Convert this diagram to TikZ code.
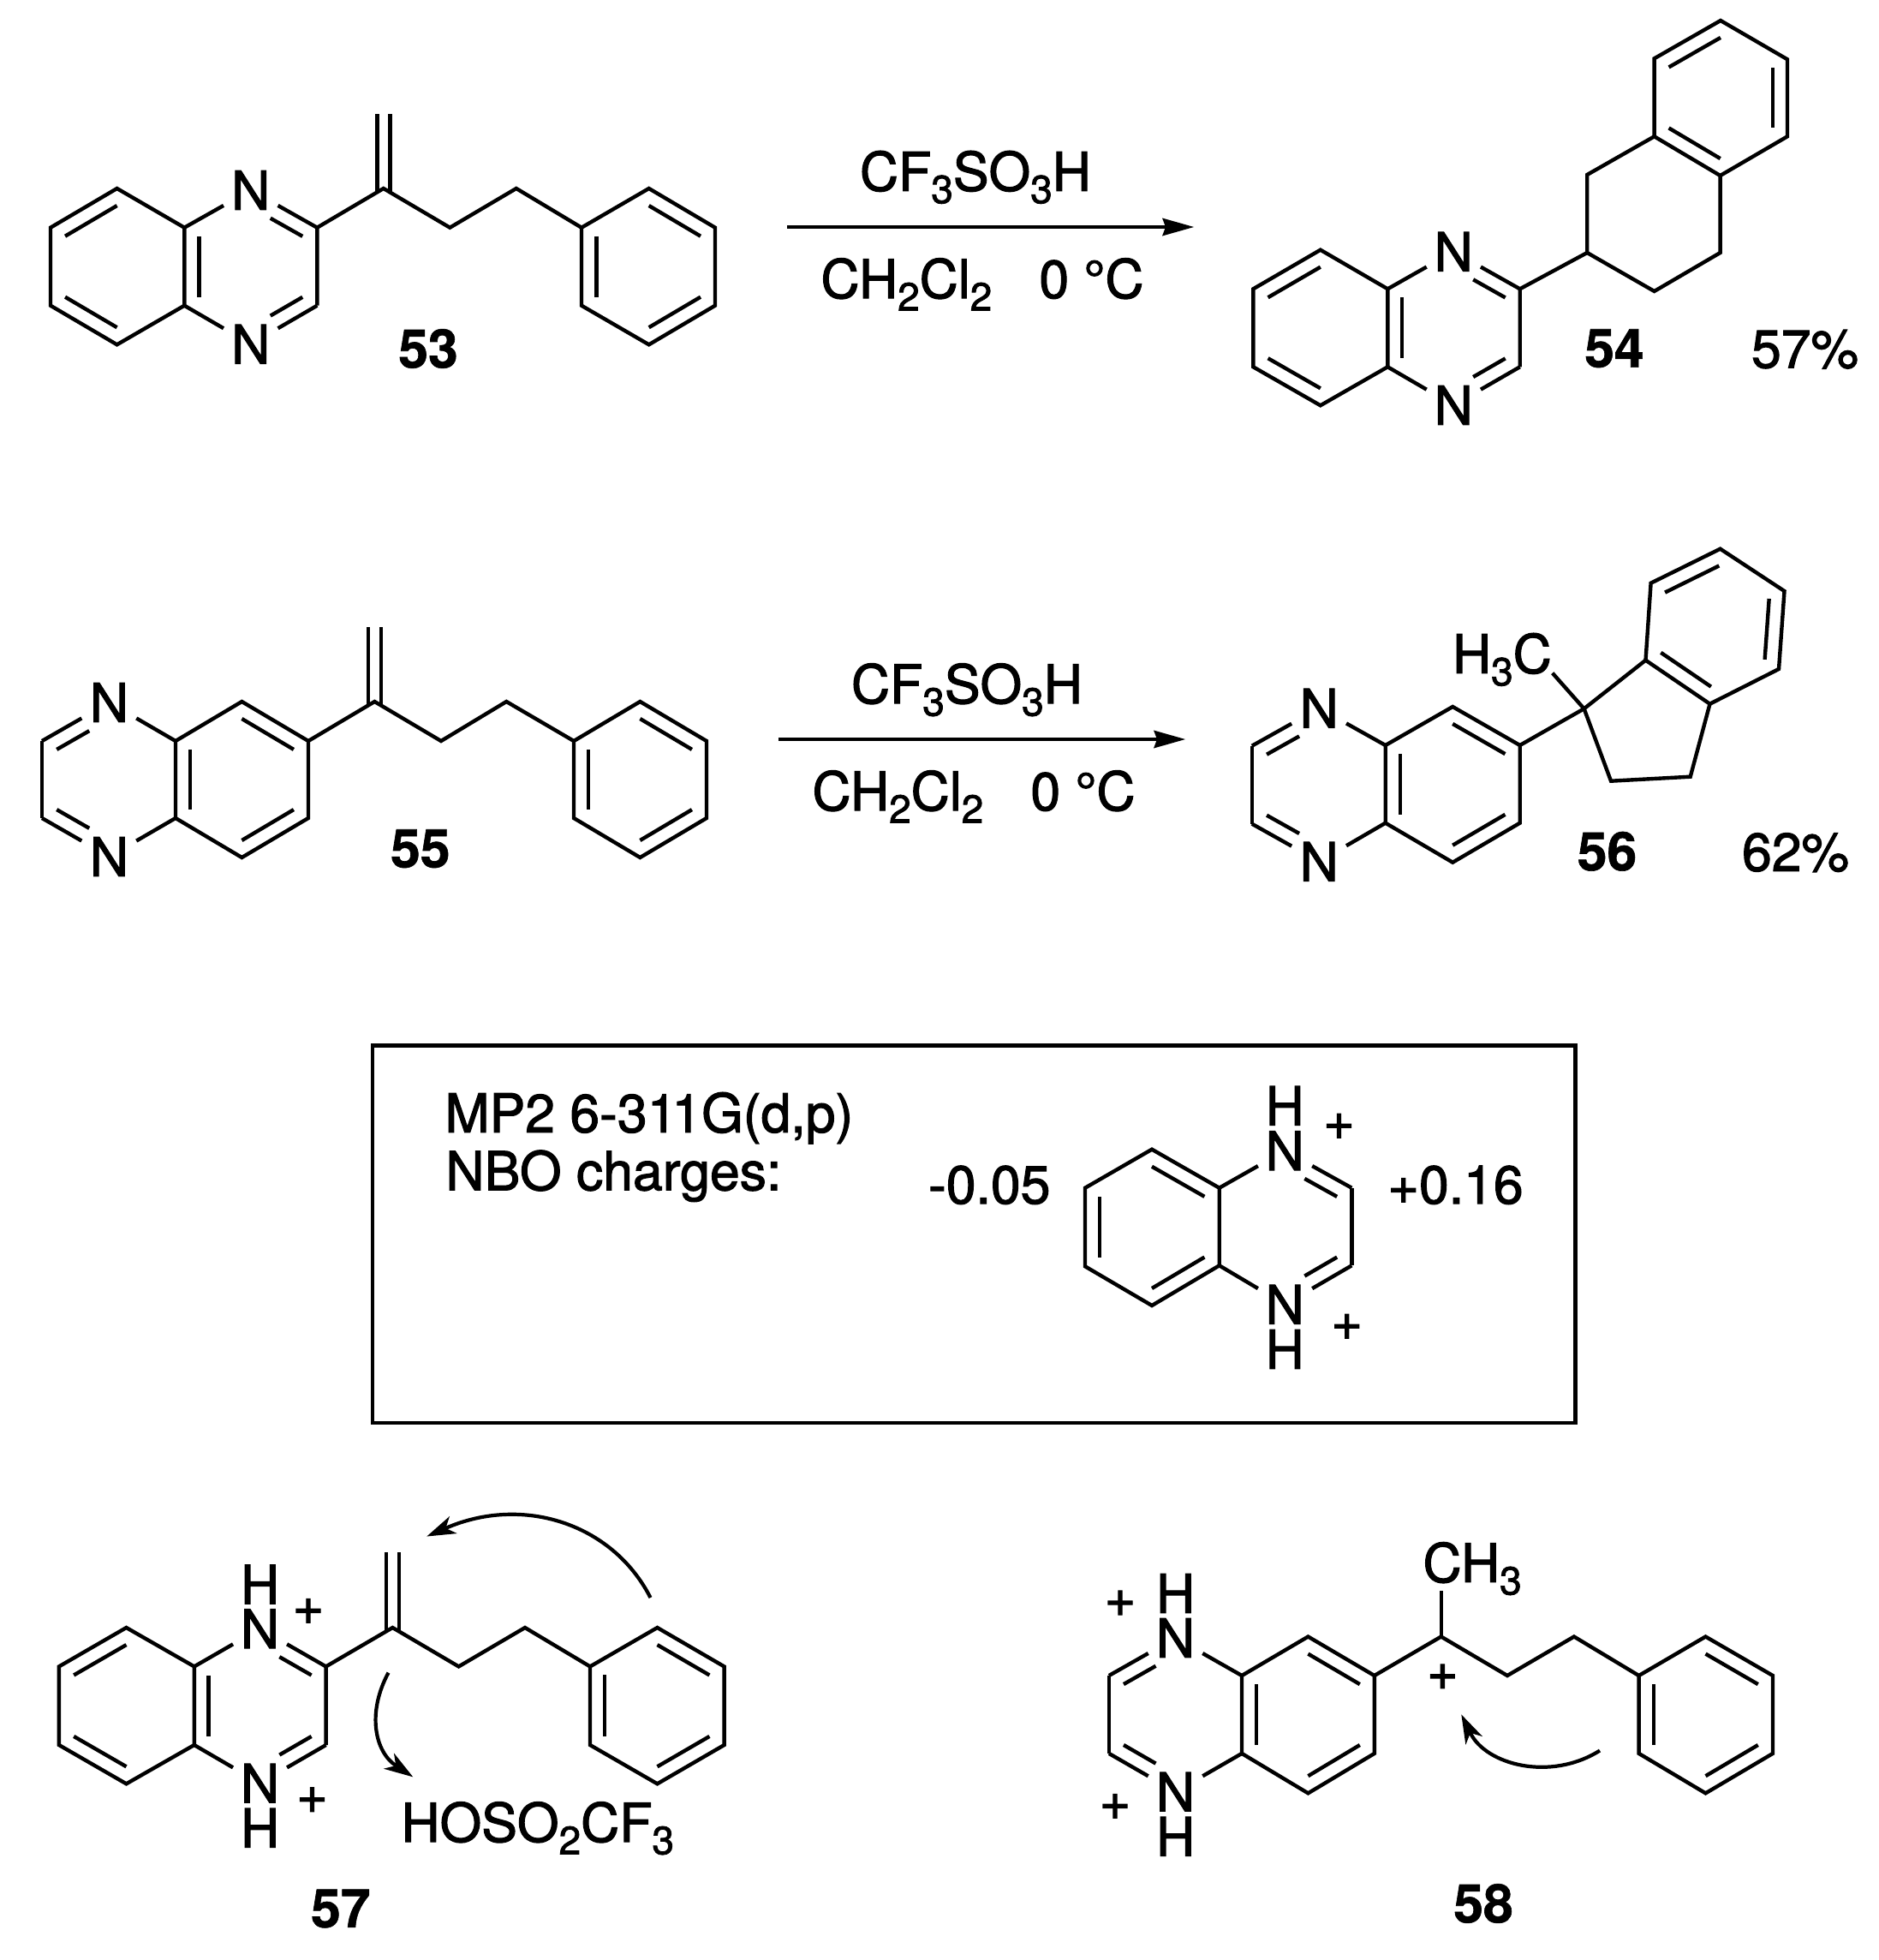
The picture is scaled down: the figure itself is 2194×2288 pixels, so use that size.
\documentclass[tikz,border=0pt]{standalone}
\usepackage{fontspec}
\setmainfont[FakeBold=1.8,BoldFont={TeX Gyre Heros Bold},BoldFeatures={FakeBold=1}]{TeX Gyre Heros}
\usetikzlibrary{calc,arrows.meta}
\newcommand{\chs}[1]{\raisebox{-14.5pt}{\fontsize{46}{50}\selectfont #1}}
\tikzset{
  bond/.style={line width=4.4pt,line join=miter,line cap=butt},
  txt/.style={inner sep=0pt,outer sep=0pt,font=\fontsize{62.5}{70}\selectfont},
  txtl/.style={txt,anchor=base west},
  num/.style={inner sep=0pt,outer sep=0pt,font=\fontsize{62.5}{70}\selectfont\bfseries},
  rxn/.style={line width=4.4pt,-{Stealth[length=37pt,width=21pt,inset=4pt,line width=0pt]}},
  curly/.style={line width=4.2pt,-{Stealth[length=34pt,width=22pt,inset=10pt,line width=0pt]}},
  frame/.style={line width=4.8pt,line join=miter,outer sep=0pt}
}
\newcommand{\pts}[1]{\foreach \n/\x/\y in {#1}{\coordinate (\n) at (\x,\y);}}
\newcommand{\atoms}[1]{\foreach \n/\x/\y/\t in {#1}{\node[txt] (\n) at (\x,\y) {\t};}}
\newcommand{\inr}[3]{\draw[bond] ($(#1)!.22!(#3)$) -- ($(#2)!.22!(#3)$);}
\newcommand{\bondN}[2]{\draw[bond] (#1) -- ($(#1)!.59!(#2)$);}
\newcommand{\dblN}[3]{%
  \coordinate (tmpa) at ($(#1)!.22!(#3)$);
  \coordinate (tmpb) at ($(#2)!.22!(#3)$);
  \draw[bond] (#1) -- ($(#1)!.59!(#2)$);
  \draw[bond] (tmpa) -- ($(tmpa)!.62!(tmpb)$);}
\newcommand{\hexa}[6]{\draw[bond] (#1)--(#2)--(#3)--(#4)--(#5)--(#6)--cycle;}
\newcommand{\exo}[2]{%
  \draw[bond] ([shift={(-7.5,4.5)}]#1) -- ([shift={(-7.5,0)}]#2);
  \draw[bond] ([shift={(7.5,4.5)}]#1) -- ([shift={(7.5,0)}]#2);}
\begin{document}
\begin{tikzpicture}[x=1pt,y=-1pt]
\path[use as bounding box,fill=white] (0,0) rectangle (2194,2288);

% ---------- 53
\pts{at/136.6/220,ab/59/265.7,ac/59/356.7,ad/136.6/402.3,ae/215.3/356.7,af/215.3/265.7,ag/370.3/265.7,ah/370.3/356.7,ai/447.8/220,aj/447.8/133,ak/525.3/265.7,al/602.8/220,am/679/265.7,an/757.7/220,ao/835/265.7,ap/835/356.7,aq/757.7/402.3,ar/679/356.7}
\atoms{aN/292.8/222/N,aM/292.8/401.7/N}
\coordinate (ac1) at ($(at)!.5!(ad)$);
\coordinate (ac2) at ($(aN)!.5!(aM)$);
\coordinate (ac3) at ($(an)!.5!(aq)$);
\hexa{ab}{at}{af}{ae}{ad}{ac}
\inr{ab}{at}{ac1} \inr{ac}{ad}{ac1} \inr{af}{ae}{ac2}
\bondN{af}{aN} \dblN{ag}{aN}{ac2} \dblN{ah}{aM}{ac2} \bondN{ae}{aM}
\draw[bond] (ah)--(ag)--(ai)--(ak)--(al)--(am);
\exo{ai}{aj}
\hexa{am}{an}{ao}{ap}{aq}{ar}
\inr{an}{ao}{ac3} \inr{ap}{aq}{ac3} \inr{am}{ar}{ac3}
\node[num] (l53) at (500,407) {53};

% ---------- reaction 1
\coordinate (r1s) at (919,265);
\coordinate (r1e) at (1394,265);
\draw[rxn] (r1s) -- (r1e);
\node[txtl] (r1t) at (1004,222.7) {CF\chs{3}SO\chs{3}H};
\node[txtl] (r1b) at (958.5,348) {CH\chs{2}Cl\chs{2}\ \ \ \kern3pt 0 °C};

% ---------- 54
\pts{bt/1541.8/291.7,bb/1463.3/337.3,bc/1463.3/428.3,bd/1541.8/473.3,be/1620.3/428.3,bf/1620.3/337.3,bg/1774.7/337.3,bh/1774.7/428.3,bi/1853.2/295,bj/1853.2/204,bk/1931.6/159.3,bl/2008.6/205,bm/2008.6/295,bn/1931.6/340,bo/1931.6/68.3,bp/2009/24,bq/2087/69.3,br/2087/159.3}
\atoms{bN/1697.2/293.7/N,bM/1697.2/473/N}
\coordinate (bc1) at ($(bt)!.5!(bd)$);
\coordinate (bc2) at ($(bN)!.5!(bM)$);
\coordinate (bc3) at ($(bp)!.5!(bl)$);
\hexa{bb}{bt}{bf}{be}{bd}{bc}
\inr{bb}{bt}{bc1} \inr{bc}{bd}{bc1} \inr{bf}{be}{bc2}
\bondN{bf}{bN} \dblN{bg}{bN}{bc2} \dblN{bh}{bM}{bc2} \bondN{be}{bM}
\draw[bond] (bh)--(bg)--(bi)--(bj)--(bk);
\draw[bond] (bi)--(bn)--(bm)--(bl);
\hexa{bk}{bo}{bp}{bq}{br}{bl}
\inr{bo}{bp}{bc3} \inr{bq}{br}{bc3} \inr{bk}{bl}{bc3}
\node[num] (l54) at (1885,406.7) {54};
\node[txtl] (y54) at (2045,429.3) {57\%};

% ---------- 55
\pts{cb/49/865,cc/49/955,ce/205/955,cf/205/865,ct/282.4/819,cg/360/865,ch/360/955,cd/282.4/1001,ci/437.4/819,cj/437.4/731.7,ck/515/865,cl/591.3/819,cm/670/865,cn/747.4/819,co/825/865,cp/825/955,cq/747.4/1001,cr/670/955}
\atoms{cN/127.5/820/N,cM/127.5/1000/N}
\coordinate (cc2) at ($(cN)!.5!(cM)$);
\coordinate (cc1) at ($(ct)!.5!(cd)$);
\coordinate (cc3) at ($(cn)!.5!(cq)$);
\hexa{cf}{ct}{cg}{ch}{cd}{ce}
\inr{ct}{cg}{cc1} \inr{ch}{cd}{cc1} \inr{cf}{ce}{cc1}
\bondN{cf}{cN} \dblN{cb}{cN}{cc2} \dblN{cc}{cM}{cc2} \bondN{ce}{cM}
\draw[bond] (cb)--(cc);
\draw[bond] (cg)--(ci)--(ck)--(cl)--(cm);
\exo{ci}{cj}
\hexa{cm}{cn}{co}{cp}{cq}{cr}
\inr{cn}{co}{cc3} \inr{cp}{cq}{cc3} \inr{cm}{cr}{cc3}
\node[num] (l55) at (490.8,990.7) {55};

% ---------- reaction 2
\coordinate (r2s) at (909,863);
\coordinate (r2e) at (1384,863);
\draw[rxn] (r2s) -- (r2e);
\node[txtl] (r2t) at (994,821) {CF\chs{3}SO\chs{3}H};
\node[txtl] (r2b) at (948.5,946) {CH\chs{2}Cl\chs{2}\ \ \ \kern3pt 0 °C};

% ---------- 56
\pts{db/1461.8/870.7,dc/1461.8/961.7,de/1617.7/960.7,df/1617.7/870,dt/1696.2/825,dg/1774.7/870,dh/1774.7/960.7,dd/1696.2/1006.7,di/1849.6/827.3,dj/1921.5/770.7,dk/1996.5/821.7,dl/1973.7/906.7,dm/1881/911.7,dn/1927.6/680.7,do/2008.6/640.7,dp/2083.5/690,dq/2077/781}
\atoms{dN/1540.3/826.7/N,dM/1540.3/1005.7/N}
\node[txtl] (dme) at (1696,785.7) {H\chs{3}C};
\coordinate (dc2) at ($(dN)!.5!(dM)$);
\coordinate (dc1) at ($(dt)!.5!(dd)$);
\coordinate (dc3) at ($(dj)!.5!(dp)$);
\coordinate (dx) at (1812.7,785.7);
\hexa{df}{dt}{dg}{dh}{dd}{de}
\inr{dt}{dg}{dc1} \inr{dh}{dd}{dc1} \inr{df}{de}{dc1}
\bondN{df}{dN} \dblN{db}{dN}{dc2} \dblN{dc}{dM}{dc2} \bondN{de}{dM}
\draw[bond] (db)--(dc);
\draw[bond] (dg)--(di);
\draw[bond] (di)--(dx);
\draw[bond] (dj)--(di)--(dm)--(dl)--(dk);
\hexa{dj}{dn}{do}{dp}{dq}{dk}
\inr{dn}{do}{dc3} \inr{dp}{dq}{dc3} \inr{dj}{dk}{dc3}
\node[num] (l56) at (1876.5,993.8) {56};
\node[txtl] (y56) at (2034,1016.7) {62\%};

% ---------- box
\node[draw,frame,inner sep=0pt,minimum width=1404.5pt,minimum height=440.5pt,anchor=north west] (box) at (435,1220.5) {};
\node[txtl] (bx1) at (519.5,1321.7) {MP2 6-31\kern-6pt 1G(d,p)};
\node[txtl] (bx2) at (520.5,1389.3) {NBO charges:};
\node[txtl] (bx3) at (1084,1405) {-0.05};
\node[txtl] (bx4) at (1620.5,1405) {+0.16};
\pts{et/1345/1341.7,eb/1267/1386.7,ec/1267/1478.3,ed/1345/1524,ee/1423.7/1477.3,ef/1423.7/1386.7,eg/1578.3/1386.7,eh/1578.3/1477.3}
\atoms{eN/1500.2/1343.3/N,eM/1500.2/1522.7/N,eH/1500.2/1290.7/H,eI/1500.2/1575/H,ep/1563.5/1315/+,eq/1572.7/1549/+}
\coordinate (ec1) at ($(et)!.5!(ed)$);
\coordinate (ec2) at ($(eN)!.5!(eM)$);
\hexa{eb}{et}{ef}{ee}{ed}{ec}
\inr{et}{ef}{ec1} \inr{ee}{ed}{ec1} \inr{eb}{ec}{ec1}
\bondN{ef}{eN} \dblN{eg}{eN}{ec2} \dblN{eh}{eM}{ec2} \bondN{ee}{eM}
\draw[bond] (eg)--(eh);

% ---------- 57
\pts{ft/147.5/1900,fb/68.9/1945.4,fc/68.9/2037,fd/147.5/2082.3,fe/226.8/2037,ff/226.8/1945.4,fg/380.6/1945.4,fh/380.6/2037,fi/458.4/1900,fj/458.4/1811.7,fk/535.6/1945.4,fl/613/1900,fm/689/1945.4,fn/767.5/1900,fo/845.6/1945.4,fp/845.6/2037,fq/767.5/2082.3,fr/689/2037}
\atoms{fN/303.5/1901.2/N,fM/303.5/2081.6/N,fH/303.5/1849.4/H,fI/303.5/2133.8/H,fpa/360/1881.2/+,fpb/364.5/2101.5/+}
\coordinate (fc1) at ($(ft)!.5!(fd)$);
\coordinate (fc2) at ($(fN)!.5!(fM)$);
\coordinate (fc3) at ($(fn)!.5!(fq)$);
\hexa{fb}{ft}{ff}{fe}{fd}{fc}
\inr{fb}{ft}{fc1} \inr{fc}{fd}{fc1} \inr{ff}{fe}{fc2}
\bondN{ff}{fN} \dblN{fg}{fN}{fc2} \dblN{fh}{fM}{fc2} \bondN{fe}{fM}
\draw[bond] (fh)--(fg)--(fi)--(fk)--(fl)--(fm);
\exo{fi}{fj}
\hexa{fm}{fn}{fo}{fp}{fq}{fr}
\inr{fn}{fo}{fc3} \inr{fp}{fq}{fc3} \inr{fm}{fr}{fc3}
\node[txtl] (tfa) at (468.5,2150) {HOSO\chs{2}CF\chs{3}};
\node[num] (l57) at (397.8,2228) {57};
\coordinate (fa1) at (759.5,1865);
\coordinate (fa2) at (498.3,1793.5);
\coordinate (fa3) at (453.5,1952.6);
\coordinate (fa4) at (482.2,2074.3);
\draw[curly] (fa1) .. controls (715,1778) and (610,1745) .. (fa2);
\draw[curly] (fa3) .. controls (428,2000) and (438,2045) .. (fa4);

% ---------- 58
\pts{gb/1294.9/1956,gc/1294.9/2046.9,ge/1450/2046.9,gf/1450/1956,gt/1527.4/1910.5,gg/1604.8/1956,gh/1604.8/2046.9,gd/1527.4/2093.3,gi/1682.7/1910.5,gj/1682.7/1857,gk/1760/1956,gl/1837.9/1910.5,gm/1913.6/1956,gn/1991.5/1910.5,go/2070/1956,gp/2070/2046.9,gq/1991.5/2093.3,gr/1913.6/2046.9}
\atoms{gN/1372.5/1911.9/N,gM/1372.5/2091.6/N,gH/1372.5/1860/H,gI/1372.5/2143.8/H,gpa/1308/1871.8/+,gpb/1302/2109.2/+,gpc/1684.3/1957.6/+}
\node[txtl] (gme) at (1661.5,1846.9) {CH\chs{3}};
\coordinate (gc2) at ($(gN)!.5!(gM)$);
\coordinate (gc1) at ($(gt)!.5!(gd)$);
\coordinate (gc3) at ($(gn)!.5!(gq)$);
\hexa{gf}{gt}{gg}{gh}{gd}{ge}
\inr{gt}{gg}{gc1} \inr{gh}{gd}{gc1} \inr{gf}{ge}{gc1}
\bondN{gf}{gN} \dblN{gb}{gN}{gc2} \dblN{gc}{gM}{gc2} \bondN{ge}{gM}
\draw[bond] (gb)--(gc);
\draw[bond] (gg)--(gi)--(gk)--(gl)--(gm);
\draw[bond] (gi)--(gj);
\hexa{gm}{gn}{go}{gp}{gq}{gr}
\inr{gn}{go}{gc3} \inr{gp}{gq}{gc3} \inr{gm}{gr}{gc3}
\node[num] (l58) at (1732,2222) {58};
\coordinate (ga1) at (1868,2043.5);
\coordinate (ga2) at (1706.3,2001.4);
\draw[curly] (ga1) .. controls (1810,2080) and (1735,2060) .. (ga2);
\end{tikzpicture}
\end{document}
